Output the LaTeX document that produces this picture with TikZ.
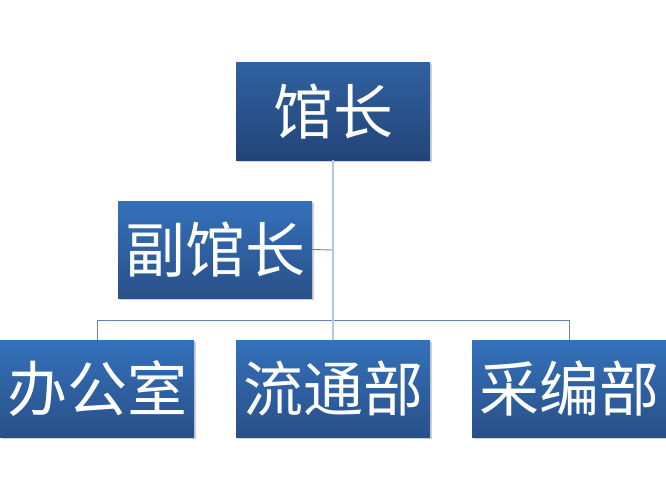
\documentclass[tikz,border=0pt]{standalone}
\usepackage{fontspec}
\newfontfamily\cjk{Noto Sans CJK SC}
\usetikzlibrary{shadows}
\definecolor{topA}{RGB}{48,97,161}
\definecolor{botA}{RGB}{35,68,120}
\definecolor{topB}{RGB}{52,113,186}
\definecolor{botB}{RGB}{41,80,136}
\definecolor{trunk}{RGB}{180,199,228}
\definecolor{branch}{RGB}{96,131,190}
\tikzset{
  orgbox/.style={rectangle, minimum width=194pt, minimum height=97pt, inner sep=0pt,
    top color=topB, bottom color=botB, draw=none, text=white,
    font=\cjk\fontsize{60}{62}\selectfont,
    drop shadow={shadow xshift=1.5pt, shadow yshift=-1.5pt, fill=black!30, opacity=0.6}},
  headbox/.style={orgbox, top color=topA, bottom color=botA},
  trunkline/.style={draw=trunk, line width=1.6pt},
  branchline/.style={draw=branch, line width=0.9pt}
}
\begin{document}
\begin{tikzpicture}[x=1pt,y=-1pt]
\useasboundingbox (0,0) rectangle (666,500);
\coordinate (j1) at (333,250);
\coordinate (jl) at (97,320);
\coordinate (jr) at (569,320);
\node[headbox] (gz) at (333,111.5) {馆长};
\node[orgbox] (fgz) at (215,249.5) {副馆长};
\node[orgbox] (bgs) at (97,388.5) {办公室};
\node[orgbox] (ltb) at (333,388.5) {流通部};
\node[orgbox] (cbb) at (569,388.5) {采编部};
\draw[branchline] (jl) -- (jr);
\draw[branchline] (jl) -- (bgs.north);
\draw[branchline] (jr) -- (cbb.north);
\draw[branchline] (fgz.east) -- (j1);
\draw[trunkline] (gz.south) -- (ltb.north);
\end{tikzpicture}
\end{document}
